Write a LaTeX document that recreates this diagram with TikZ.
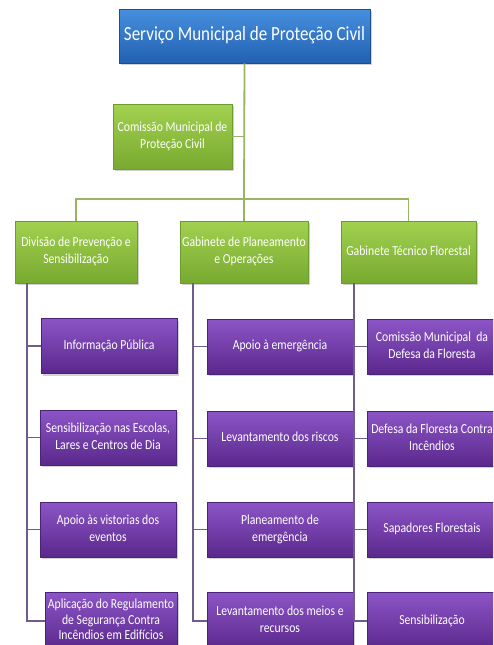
\documentclass[tikz,border=0pt]{standalone}
\usepackage{fontspec}
\setmainfont{Carlito}
\usetikzlibrary{shadows}
\definecolor{bluetop}{HTML}{4690DE}
\definecolor{bluebot}{HTML}{2360B2}
\definecolor{blueline}{HTML}{1C4F90}
\definecolor{greentop}{HTML}{A2D150}
\definecolor{greenbot}{HTML}{78AA30}
\definecolor{greenline}{HTML}{6E9A30}
\definecolor{purptop}{HTML}{8C55C6}
\definecolor{purpbot}{HTML}{5A288C}
\definecolor{purpline}{HTML}{4A2478}
\definecolor{glink}{HTML}{98B562}
\definecolor{plink}{HTML}{6E5C8C}
\newcommand{\stxt}[1]{\scalebox{1}[1.18]{\begin{tabular}{@{}c@{}}#1\end{tabular}}}
\tikzset{
  basebox/.style={rectangle, inner sep=1pt, align=center, text=white,
    drop shadow={opacity=0.35, shadow xshift=2pt, shadow yshift=-2pt},
    line width=0.6pt},
  topbox/.style={basebox, draw=blueline, top color=bluetop, bottom color=bluebot,
    font=\fontsize{17}{20}\selectfont},
  gbox/.style={basebox, draw=greenline, top color=greentop, bottom color=greenbot,
    font=\fontsize{11.7}{14.2}\selectfont},
  pbox/.style={basebox, draw=purpline, top color=purptop, bottom color=purpbot,
    font=\fontsize{11.7}{14.2}\selectfont},
  glinkstyle/.style={draw=glink, line width=1.8pt},
  plinkstyle/.style={draw=plink, line width=1.8pt},
}
\begin{document}
\begin{tikzpicture}[x=1pt,y=-1pt]
\useasboundingbox (0,0) rectangle (493,645);
\fill[white] (0,0) rectangle (493,645);
\clip (0,0) rectangle (493,645);

% top levels
\node[topbox, minimum width=251pt, minimum height=54pt] (smpc) at (244.5,36) {\stxt{Serviço Municipal de Proteção Civil}};
\node[gbox, minimum width=119pt, minimum height=65pt] (cmpc) at (172.5,136.5) {\stxt{Comissão Municipal de\\Proteção Civil}};
\node[gbox, minimum width=122pt, minimum height=62pt] (div) at (76,252) {\stxt{Divisão de Prevenção e\\Sensibilização}};
\node[gbox, minimum width=128pt, minimum height=62pt] (gab) at (244,252) {\stxt{Gabinete de Planeamento\\e Operações}};
\node[gbox, minimum width=135pt, minimum height=62pt] (gtf) at (408.5,252) {\stxt{Gabinete Técnico Florestal}};

% left column
\node[pbox, minimum width=136pt, minimum height=55pt] (l1) at (109,346) {\stxt{Informação Pública}};
\node[pbox, minimum width=136pt, minimum height=55pt] (l2) at (108,437.5) {\stxt{Sensibilização nas Escolas,\\Lares e Centros de Dia}};
\node[pbox, minimum width=136pt, minimum height=55pt] (l3) at (108,529.5) {\stxt{Apoio às vistorias dos\\eventos}};
\node[pbox, minimum width=132pt, minimum height=58pt, font=\fontsize{11.7}{13}\selectfont] (l4) at (111,621) {\stxt{Aplicação do Regulamento\\de Segurança Contra\\Incêndios em Edifícios}};

% center column
\node[pbox, minimum width=146pt, minimum height=55pt] (c1) at (280,346.5) {\stxt{Apoio à emergência}};
\node[pbox, minimum width=146pt, minimum height=55pt] (c2) at (280,438.5) {\stxt{Levantamento dos riscos}};
\node[pbox, minimum width=146pt, minimum height=55pt] (c3) at (280,529.5) {\stxt{Planeamento de\\emergência}};
\node[pbox, minimum width=146pt, minimum height=58pt] (c4) at (280,621) {\stxt{Levantamento dos meios e\\recursos}};

% right column
\node[pbox, minimum width=130pt, minimum height=55pt] (r1) at (432,346.5) {\stxt{Comissão Municipal \ da\\Defesa da Floresta}};
\node[pbox, minimum width=130pt, minimum height=55pt] (r2) at (432,438.5) {\stxt{Defesa da Floresta Contra\\Incêndios}};
\node[pbox, minimum width=130pt, minimum height=55pt] (r3) at (432,529.5) {\stxt{Sapadores Florestais}};
\node[pbox, minimum width=130pt, minimum height=58pt] (r4) at (432,621) {\stxt{Sensibilização}};

% green connectors
\coordinate (bus) at (244,199);
\draw[glinkstyle] (smpc.south) -- (bus);
\draw[glinkstyle] (cmpc.east) -- (cmpc.east -| bus);
\draw[glinkstyle] (div.north) |- (bus);
\draw[glinkstyle] (bus) -| (gtf.north);
\draw[glinkstyle] (bus) -- (gab.north);

% purple connectors
\coordinate (dl) at ([xshift=12pt]div.south west);
\coordinate (gl) at ([xshift=13pt]gab.south west);
\coordinate (tl) at ([xshift=13pt]gtf.south west);
\draw[plinkstyle] (dl) |- (l4.west);
\draw[plinkstyle] (dl |- l1.west) -- (l1.west);
\draw[plinkstyle] (dl |- l2.west) -- (l2.west);
\draw[plinkstyle] (dl |- l3.west) -- (l3.west);
\draw[plinkstyle] (gl) |- (c4.west);
\draw[plinkstyle] (gl |- c1.west) -- (c1.west);
\draw[plinkstyle] (gl |- c2.west) -- (c2.west);
\draw[plinkstyle] (gl |- c3.west) -- (c3.west);
\draw[plinkstyle] (tl) |- (r4.west);
\draw[plinkstyle] (tl |- r1.west) -- (r1.west);
\draw[plinkstyle] (tl |- r2.west) -- (r2.west);
\draw[plinkstyle] (tl |- r3.west) -- (r3.west);
\end{tikzpicture}
\end{document}
